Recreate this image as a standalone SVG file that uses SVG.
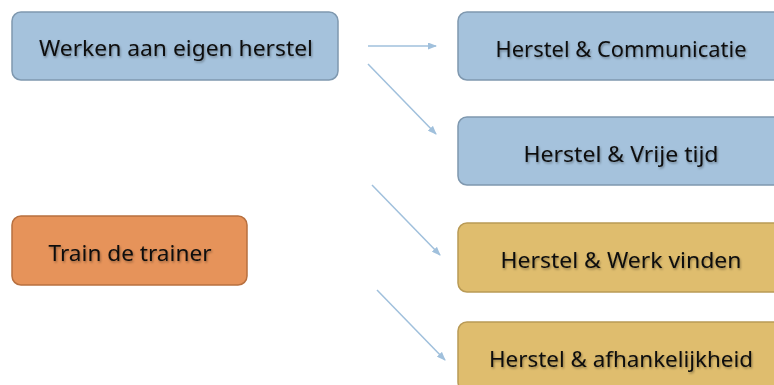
<svg xmlns="http://www.w3.org/2000/svg" width="774" height="385" viewBox="0 0 774 385">
<defs>
<style>
.blue{fill:#A5C2DC;stroke:#7F98AF;stroke-width:1.5}
.gold{fill:#DFBD6E;stroke:#B99A55;stroke-width:1.5}
.orange{fill:#E6935A;stroke:#B8703F;stroke-width:1.5}
.lbl{font-family:"Noto Sans","Liberation Sans",sans-serif;font-size:21px;fill:#0d0d0d;text-anchor:middle;filter:url(#ts)}
.conn{stroke:#A0C0DC;stroke-width:1.5;fill:none;marker-end:url(#ah)}
</style>
<filter id="ts" x="-10%" y="-30%" width="120%" height="160%">
<feDropShadow dx="1" dy="1.5" stdDeviation="1" flood-color="#000" flood-opacity="0.35"/>
</filter>
<marker id="ah" markerWidth="9" markerHeight="7" refX="8" refY="3.5" orient="auto" markerUnits="userSpaceOnUse">
<path d="M0,0 L9,3.5 L0,7 z" fill="#A0C0DC"/>
</marker>
</defs>
<rect width="774" height="385" fill="#fff"/>
<g id="connectors">
<line class="conn" x1="368" y1="46" x2="436" y2="46"/>
<line class="conn" x1="368" y1="64" x2="436" y2="134"/>
<line class="conn" x1="372" y1="185" x2="440" y2="255"/>
<line class="conn" x1="377" y1="290" x2="445" y2="360"/>
</g>
<g id="werken">
<rect class="blue" x="12" y="12" width="326" height="68" rx="9"/>
<text class="lbl" x="176" y="56" textLength="274" lengthAdjust="spacingAndGlyphs">Werken aan eigen herstel</text>
</g>
<g id="train">
<rect class="orange" x="12" y="216" width="235" height="69" rx="9"/>
<text class="lbl" x="130" y="261" textLength="163" lengthAdjust="spacingAndGlyphs">Train de trainer</text>
</g>
<g id="communicatie">
<rect class="blue" x="458" y="12" width="330" height="68" rx="9"/>
<text class="lbl" x="621" y="57" textLength="251" lengthAdjust="spacingAndGlyphs">Herstel &amp; Communicatie</text>
</g>
<g id="vrijetijd">
<rect class="blue" x="458" y="117" width="330" height="68" rx="9"/>
<text class="lbl" x="621" y="162" textLength="195" lengthAdjust="spacingAndGlyphs">Herstel &amp; Vrije tijd</text>
</g>
<g id="werkvinden">
<rect class="gold" x="458" y="223" width="330" height="69" rx="9"/>
<text class="lbl" x="621" y="268" textLength="241" lengthAdjust="spacingAndGlyphs">Herstel &amp; Werk vinden</text>
</g>
<g id="afhankelijkheid">
<rect class="gold" x="458" y="322" width="330" height="69" rx="9"/>
<text class="lbl" x="621" y="367" textLength="264" lengthAdjust="spacingAndGlyphs">Herstel &amp; afhankelijkheid</text>
</g>
</svg>
